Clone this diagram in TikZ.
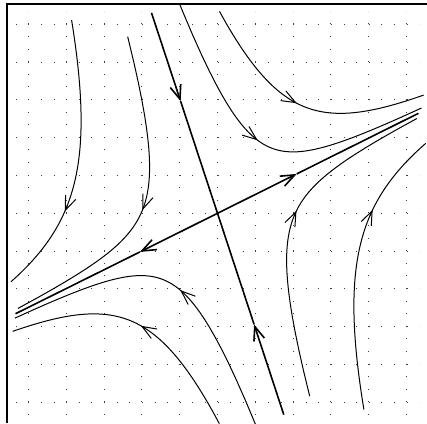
\documentclass[tikz,border=0pt]{standalone}
\usetikzlibrary{arrows.meta}
\newcommand\phasecurve[4]{%
  \draw[traj] plot[domain=#2:#4,samples=90,variable=\u]
    ({100*(0.8953*\u-0.3127*(#1)/(\u*\u))},{100*(0.4454*\u+0.9498*(#1)/(\u*\u))});
  \pgfmathsetmacro\phA{0.97*(#3)}%
  \pgfmathsetmacro\phB{#3}%
  \draw[traj,arr]
    ({100*(0.8953*\phA-0.3127*(#1)/(\phA*\phA))},{100*(0.4454*\phA+0.9498*(#1)/(\phA*\phA))})
    -- ({100*(0.8953*\phB-0.3127*(#1)/(\phB*\phB))},{100*(0.4454*\phB+0.9498*(#1)/(\phB*\phB))});
}
\begin{document}
\begin{tikzpicture}[x=1pt,y=1pt,
  traj/.style={line width=1pt},
  sep/.style={line width=1.6pt},
  arr/.style={-{Straight Barb[length=14pt,width=11pt]}},
  gridline/.style={line width=0.9pt, black!75, dash pattern=on 0.9pt off 11.7pt},
  frame/.style={line width=1.2pt}]
\useasboundingbox (-217.5,-209.7) rectangle (209.5,213.3);
\foreach \k in {-5,...,5} {
  \draw[gridline] (37.8*\k,-201.6) -- (37.8*\k,201.6);
  \draw[gridline] (-201.6,37.8*\k) -- (201.6,37.8*\k);
}
\draw[frame] (-210.5,-209.7) -- (-210.5,209.3) -- (209.5,209.3);
\begin{scope}
\clip (-210.5,-209.7) rectangle (209.5,209.3);
% trajectories: C, u start, u arrow, u end
\phasecurve{1.50}{-0.79}{-1.46}{-2.20}
\phasecurve{-1.50}{0.785}{1.50}{2.22}
\phasecurve{0.785}{0.657}{1.108}{2.352}
\phasecurve{-0.80}{-0.647}{-1.09}{-2.339}
\phasecurve{0.185}{-0.304}{-0.71}{-2.216}
\phasecurve{-0.195}{0.307}{0.765}{2.213}
\phasecurve{0.182}{0.28}{0.616}{2.29}
\phasecurve{-0.19}{-0.278}{-0.60}{-2.276}
% separatrices
\coordinate (O) at (0,0);
\coordinate (stop) at (-65.98,200.4);
\coordinate (sa1) at (-36.9,112.1);
\coordinate (sbot) at (66.3,-201.4);
\coordinate (sa2) at (36.6,-111.1);
\coordinate (uend1) at (201.0,100.0);
\coordinate (ua1) at (79.2,39.4);
\coordinate (uend2) at (-201.9,-100.4);
\coordinate (ua2) at (-77.5,-38.6);
\draw[sep,arr] (stop) -- (sa1);
\draw[sep] (sa1) -- (O);
\draw[sep,arr] (sbot) -- (sa2);
\draw[sep] (sa2) -- (O);
\draw[sep,arr] (O) -- (ua1);
\draw[sep] (ua1) -- (uend1);
\draw[sep,arr] (O) -- (ua2);
\draw[sep] (ua2) -- (uend2);
\end{scope}
\end{tikzpicture}
\end{document}
